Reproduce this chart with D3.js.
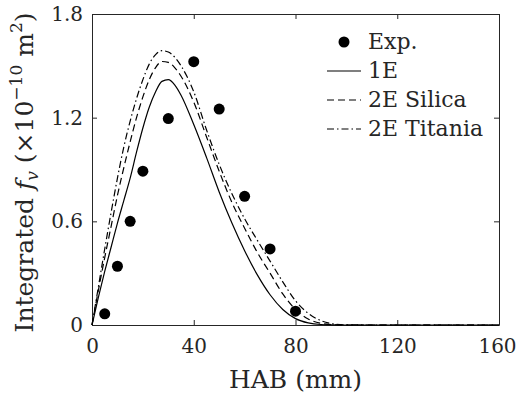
<!DOCTYPE html>
<html>
<head>
<meta charset="utf-8">
<script src="https://cdn.jsdelivr.net/npm/d3@7"></script>
<style>
  body { margin: 0; background: #fff; }
  text { font-family: "DejaVu Serif", serif; fill: #262626; }
</style>
</head>
<body>
<div id="chart"></div>
<script>
var svgWidth = 518;
var svgHeight = 399;

var margin = { top: 14, right: 19, bottom: 74, left: 92 };
var width = svgWidth - margin.left - margin.right;
var height = svgHeight - margin.top - margin.bottom;

// experimental points
var expHab = [5, 10, 15, 20, 30, 40, 50, 60, 70, 80];
var expFv = [0.065, 0.34, 0.60, 0.89, 1.195, 1.524, 1.25, 0.745, 0.44, 0.08];

// model curves (HAB in mm)
var habGrid = [0, 2.5, 5, 7.5, 10, 12.5, 15, 17.5, 20, 22.5, 25, 27.5, 30, 32.5, 35, 40, 45, 50, 55, 60, 65, 70, 75, 80, 85, 90, 95, 100, 110, 120, 140, 160];
var fv1E = [0, 0.16, 0.31, 0.45, 0.59, 0.72, 0.85, 1.0, 1.14, 1.26, 1.35, 1.41, 1.42, 1.39, 1.33, 1.16, 0.97, 0.77, 0.59, 0.43, 0.29, 0.175, 0.09, 0.037, 0.012, 0.003, 0.001, 0, 0, 0, 0, 0];
var fvSilica = [0, 0.2, 0.39, 0.57, 0.75, 0.91, 1.06, 1.2, 1.32, 1.42, 1.49, 1.525, 1.52, 1.49, 1.44, 1.29, 1.09, 0.89, 0.71, 0.56, 0.42, 0.3, 0.18, 0.09, 0.035, 0.01, 0.002, 0, 0, 0, 0, 0];
var fvTitania = [0, 0.22, 0.44, 0.65, 0.85, 1.03, 1.18, 1.31, 1.42, 1.51, 1.565, 1.588, 1.58, 1.55, 1.5, 1.35, 1.13, 0.93, 0.76, 0.615, 0.49, 0.37, 0.25, 0.14, 0.068, 0.025, 0.006, 0.001, 0, 0, 0, 0];

var xTicks = [0, 40, 80, 120, 160];
var yTicks = [0, 0.6, 1.2, 1.8];
var yTickLabels = ["0", "0.6", "1.2", "1.8"];

var series = [
  { name: "1E", values: fv1E, dash: null },
  { name: "2E Silica", values: fvSilica, dash: "7,4" },
  { name: "2E Titania", values: fvTitania, dash: "7,3,1.5,3" }
];

var svg = d3.select("#chart")
  .append("svg")
  .attr("width", svgWidth)
  .attr("height", svgHeight);

var chartGroup = svg.append("g")
  .attr("transform", `translate(${margin.left}, ${margin.top})`);

var xScale = d3.scaleLinear().domain([0, 160]).range([0, width]);
var yScale = d3.scaleLinear().domain([0, 1.8]).range([height, 0]);

// axes, ticks pointing inward
var bottomAxis = d3.axisBottom(xScale).tickValues(xTicks).tickSizeInner(-5).tickSizeOuter(0).tickPadding(14);
var leftAxis = d3.axisLeft(yScale).tickValues(yTicks).tickSizeInner(-5).tickSizeOuter(0).tickPadding(9)
  .tickFormat((d, i) => yTickLabels[i]);
var topAxis = d3.axisTop(xScale).tickValues(xTicks).tickSizeInner(-5).tickSizeOuter(0).tickFormat("");
var rightAxis = d3.axisRight(yScale).tickValues(yTicks).tickSizeInner(-5).tickSizeOuter(0).tickFormat("");

var gx = chartGroup.append("g").attr("transform", `translate(0, ${height})`).call(bottomAxis);
var gy = chartGroup.append("g").call(leftAxis);
var gt = chartGroup.append("g").call(topAxis);
var gr = chartGroup.append("g").attr("transform", `translate(${width}, 0)`).call(rightAxis);

[gx, gy, gt, gr].forEach(g => {
  g.attr("font-family", null);
  g.select(".domain").attr("stroke", "#262626").attr("stroke-width", 1);
  g.selectAll(".tick line").attr("stroke", "#262626");
  g.selectAll(".tick text").style("font-size", "20px").attr("fill", "#262626");
});
// keep the last x label inside the page
gx.selectAll(".tick text").filter(d => d === 160).attr("dx", -2);

// curves
var line = d3.line()
  .x((d, i) => xScale(habGrid[i]))
  .y(d => yScale(d))
  .curve(d3.curveMonotoneX);

series.forEach(s => {
  chartGroup.append("path")
    .attr("d", line(s.values))
    .attr("fill", "none")
    .attr("stroke", "#000")
    .attr("stroke-width", 1.2)
    .attr("stroke-dasharray", s.dash);
});

// experimental points
chartGroup.selectAll("circle.exp")
  .data(expHab)
  .enter()
  .append("circle")
  .attr("class", "exp")
  .attr("cx", d => xScale(d))
  .attr("cy", (d, i) => yScale(expFv[i]))
  .attr("r", 5.5)
  .attr("fill", "#000");

// legend
var legend = chartGroup.append("g").attr("transform", "translate(235, 28)");
legend.append("circle").attr("cx", 17).attr("cy", 0).attr("r", 5.5).attr("fill", "#000");
legend.append("text").attr("x", 41).attr("y", 7).style("font-size", "22px").text("Exp.");
series.forEach((s, i) => {
  var yy = 29 * (i + 1);
  legend.append("line")
    .attr("x1", 0).attr("x2", 34).attr("y1", yy).attr("y2", yy)
    .attr("stroke", "#000").attr("stroke-width", 1.2)
    .attr("stroke-dasharray", s.dash);
  legend.append("text").attr("x", 41).attr("y", yy + 7).style("font-size", "22px").text(s.name);
});

// axis titles
chartGroup.append("text")
  .attr("x", width / 2)
  .attr("y", height + 63)
  .attr("text-anchor", "middle")
  .style("font-size", "25px")
  .text("HAB (mm)");

var yLabel = chartGroup.append("text")
  .attr("transform", "rotate(-90)")
  .attr("x", -height / 2 - 3)
  .attr("y", -margin.left + 33)
  .attr("text-anchor", "middle")
  .style("font-size", "25px");
yLabel.append("tspan").text("Integrated ");
yLabel.append("tspan").style("font-style", "italic").text("f");
yLabel.append("tspan").style("font-style", "italic").style("font-size", "17px").attr("dy", 5).text("v");
yLabel.append("tspan").attr("dy", -5).text("\u00a0(\u00d710");
yLabel.append("tspan").style("font-size", "17px").attr("dy", -11).text("\u221210");
yLabel.append("tspan").attr("dy", 11).text("\u00a0m");
yLabel.append("tspan").style("font-size", "17px").attr("dy", -11).text("2");
yLabel.append("tspan").attr("dy", 11).text(")");
</script>
</body>
</html>
